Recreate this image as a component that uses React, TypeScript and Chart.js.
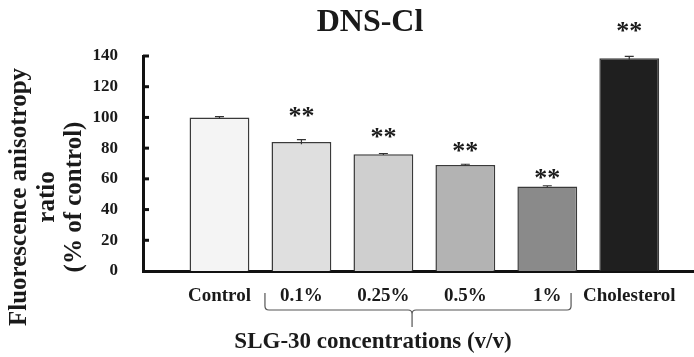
import React, { useEffect, useRef } from "react";
import { Chart, registerables } from "chart.js";
Chart.register(...registerables);

const categories = ["Control", "0.1%", "0.25%", "0.5%", "1%", "Cholesterol"];
const values = [100, 84, 76, 69, 55, 138.5];
const errors = [0.5, 1.5, 0.5, 0.5, 0.5, 1.2];
const significance = ["", "**", "**", "**", "**", "**"];
const starLevels = [0, 103.5, 90, 81, 63, 159];
const barColors = ["#f4f4f4", "#dfdfdf", "#cfcfcf", "#b3b3b3", "#8a8a8a", "#1f1f1f"];
const yTicks = [0, 20, 40, 60, 80, 100, 120, 140];
const titleText = "DNS-Cl";
const yTitle = ["Fluorescence anisotropy", "ratio", "(% of control)"];
const groupTitle = "SLG-30 concentrations (v/v)";
const groupFrom = 0.555;
const groupTo = 4.29;
const groupPeak = 2.35;

const SERIF = '"Liberation Serif", "Times New Roman", serif';

const decorPlugin = {
  id: "decor",
  afterDatasetsDraw(chart: any) {
    const ctx = chart.ctx;
    const xs = chart.scales.x;
    const ys = chart.scales.y;
    ctx.save();
    ctx.strokeStyle = "#333";
    ctx.lineWidth = 1.2;
    values.forEach((v, i) => {
      const x = xs.getPixelForValue(i);
      const yt = ys.getPixelForValue(v + errors[i]);
      const yb = ys.getPixelForValue(v - errors[i]);
      ctx.beginPath();
      ctx.moveTo(x, yb);
      ctx.lineTo(x, yt);
      ctx.moveTo(x - 4.5, yt);
      ctx.lineTo(x + 4.5, yt);
      ctx.stroke();
    });
    ctx.restore();
  },
  afterDraw(chart: any) {
    const ctx = chart.ctx;
    const xs = chart.scales.x;
    const ys = chart.scales.y;
    const area = chart.chartArea;
    ctx.save();
    ctx.fillStyle = "#1a1a1a";
    ctx.font = `bold 32px ${SERIF}`;
    ctx.textAlign = "center";
    ctx.textBaseline = "middle";
    ctx.fillText(titleText, 370, 23);
    ctx.save();
    ctx.translate(0, 197);
    ctx.rotate(-Math.PI / 2);
    ctx.font = `bold 25px ${SERIF}`;
    const lineX = [20, 48, 75];
    yTitle.forEach((t, i) => {
      ctx.fillText(t, 0, lineX[i]);
    });
    ctx.restore();
    ctx.strokeStyle = "#111";
    ctx.lineWidth = 3;
    yTicks.forEach((t) => {
      if (t === 0) return;
      const y = ys.getPixelForValue(t);
      ctx.beginPath();
      ctx.moveTo(area.left, y);
      ctx.lineTo(area.left + 6, y);
      ctx.stroke();
    });
    ctx.font = `bold 26px ${SERIF}`;
    ctx.textAlign = "center";
    ctx.textBaseline = "alphabetic";
    significance.forEach((s, i) => {
      if (!s) return;
      const m = ctx.measureText(s);
      const x = xs.getPixelForValue(i);
      const yc = ys.getPixelForValue(starLevels[i]);
      const asc = m.actualBoundingBoxAscent;
      const desc = m.actualBoundingBoxDescent;
      ctx.fillText(s, x, yc + (asc - desc) / 2);
    });
    const L = xs.getPixelForValue(groupFrom);
    const R = xs.getPixelForValue(groupTo);
    const P = xs.getPixelForValue(groupPeak);
    const top = 293;
    const mid = 310;
    const bot = 327;
    const r = 4;
    ctx.strokeStyle = "#555";
    ctx.lineWidth = 1.2;
    ctx.beginPath();
    ctx.moveTo(L, top);
    ctx.lineTo(L, mid - r);
    ctx.quadraticCurveTo(L, mid, L + r, mid);
    ctx.lineTo(P - r, mid);
    ctx.quadraticCurveTo(P, mid, P, mid + r);
    ctx.lineTo(P, bot);
    ctx.moveTo(P, mid + r);
    ctx.quadraticCurveTo(P, mid, P + r, mid);
    ctx.lineTo(R - r, mid);
    ctx.quadraticCurveTo(R, mid, R, mid - r);
    ctx.lineTo(R, top);
    ctx.stroke();
    ctx.fillStyle = "#1a1a1a";
    ctx.font = `bold 23px ${SERIF}`;
    ctx.textAlign = "center";
    ctx.textBaseline = "middle";
    ctx.fillText(groupTitle, 373, 342);
    ctx.restore();
  },
};

export default function App() {
  const ref = useRef<HTMLCanvasElement | null>(null);
  useEffect(() => {
    if (!ref.current) return;
    const chart = new Chart(ref.current, {
      type: "bar",
      data: {
        datasets: [
          {
            data: values.map((v, i) => ({ x: i, y: v })),
            backgroundColor: barColors,
            borderColor: "#3a3a3a",
            borderWidth: 1.5,
            barPercentage: 0.73,
            categoryPercentage: 1,
          },
        ],
      },
      options: {
        animation: false,
        responsive: false,
        maintainAspectRatio: false,
        layout: { padding: { top: 56, left: 0, right: 0, bottom: 0 } },
        plugins: { legend: { display: false }, tooltip: { enabled: false }, title: { display: false } },
        scales: {
          x: {
            type: "linear",
            offset: false,
            min: -0.933,
            max: 5.79,
            grid: { display: false, drawTicks: false },
            border: { display: true, color: "#111", width: 3 },
            afterBuildTicks: (scale: any) => {
              scale.ticks = categories.map((_, i) => ({ value: i }));
            },
            afterFit: (scale: any) => {
              scale.height = 86;
            },
            ticks: {
              autoSkip: false,
              maxRotation: 0,
              minRotation: 0,
              padding: 14,
              color: "#1a1a1a",
              font: { family: SERIF, weight: "bold", size: 19 },
              callback: (v: any) => categories[Math.round(v)] ?? "",
            },
          },
          y: {
            min: 0,
            max: 140,
            grid: { display: false, drawTicks: false },
            border: { display: true, color: "#111", width: 3 },
            afterBuildTicks: (scale: any) => {
              scale.ticks = yTicks.map((v) => ({ value: v }));
            },
            afterFit: (scale: any) => {
              scale.width = 143;
            },
            ticks: {
              padding: 25,
              color: "#1a1a1a",
              font: { family: SERIF, weight: "bold", size: 17 },
            },
          },
        },
      },
      plugins: [decorPlugin],
    });
    return () => chart.destroy();
  }, []);
  return (
    <div style={{ position: "absolute", left: 0, top: 0, width: 694, height: 357, background: "#fff" }}>
      <canvas ref={ref} width={694} height={357} style={{ width: 694, height: 357 }} />
    </div>
  );
}
